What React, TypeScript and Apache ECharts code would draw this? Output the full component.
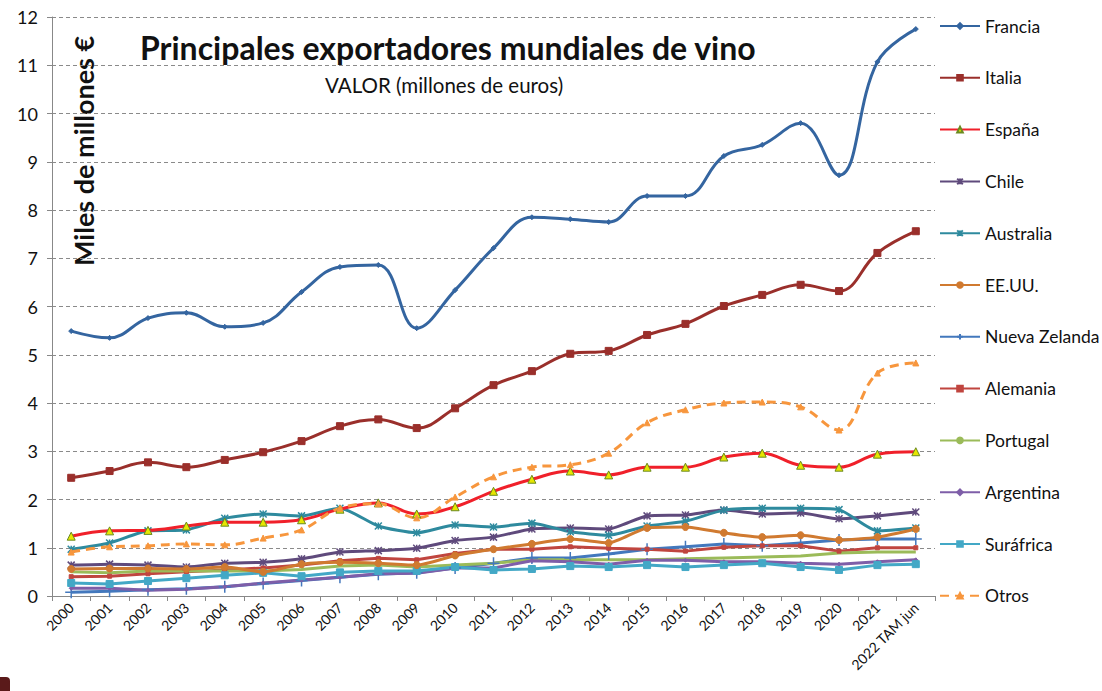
import React, { useEffect, useRef } from "react";
import * as echarts from "echarts";

const years = ["2000","2001","2002","2003","2004","2005","2006","2007","2008","2009","2010","2011","2012","2013","2014","2015","2016","2017","2018","2019","2020","2021","2022 TAM jun"];

const francia = [5.49,5.35,5.76,5.87,5.58,5.66,6.30,6.82,6.86,5.55,6.34,7.21,7.85,7.81,7.75,8.29,8.29,9.12,9.35,9.80,8.72,11.07,11.75];
const italia = [2.45,2.59,2.77,2.67,2.82,2.98,3.21,3.52,3.66,3.48,3.89,4.37,4.66,5.02,5.08,5.41,5.64,6.01,6.24,6.45,6.32,7.11,7.56];
const espana = [1.24,1.35,1.36,1.45,1.53,1.53,1.58,1.80,1.93,1.70,1.85,2.17,2.42,2.59,2.51,2.67,2.67,2.88,2.96,2.71,2.67,2.94,2.99];
const chile = [0.64,0.66,0.64,0.60,0.68,0.70,0.77,0.91,0.94,0.99,1.15,1.22,1.39,1.41,1.39,1.66,1.68,1.78,1.70,1.72,1.60,1.66,1.74];
const australia = [0.97,1.10,1.35,1.37,1.61,1.70,1.66,1.82,1.45,1.31,1.47,1.43,1.51,1.33,1.26,1.45,1.55,1.78,1.82,1.82,1.79,1.35,1.41];
const eeuu = [0.56,0.57,0.57,0.56,0.60,0.50,0.66,0.70,0.68,0.64,0.84,0.97,1.08,1.18,1.10,1.41,1.43,1.31,1.22,1.26,1.16,1.22,1.39];
const nuevaZelanda = [0.08,0.10,0.13,0.15,0.19,0.26,0.32,0.39,0.45,0.48,0.58,0.68,0.79,0.79,0.87,0.97,1.02,1.08,1.04,1.10,1.16,1.18,1.18];
const alemania = [0.40,0.41,0.46,0.50,0.54,0.58,0.64,0.73,0.78,0.75,0.88,0.97,0.97,1.02,0.99,0.97,0.93,1.01,1.04,1.04,0.93,1.00,1.00];
const portugal = [0.50,0.48,0.52,0.52,0.52,0.52,0.55,0.62,0.64,0.60,0.64,0.68,0.75,0.75,0.75,0.75,0.77,0.79,0.81,0.83,0.89,0.91,0.91];
const argentina = [0.16,0.16,0.12,0.14,0.19,0.27,0.33,0.39,0.46,0.47,0.58,0.58,0.73,0.71,0.66,0.74,0.74,0.71,0.71,0.68,0.66,0.71,0.75];
const surafrica = [0.27,0.25,0.31,0.37,0.43,0.48,0.41,0.49,0.52,0.52,0.60,0.54,0.56,0.62,0.60,0.64,0.60,0.64,0.68,0.60,0.54,0.64,0.66];
const otros = [0.91,1.02,1.04,1.08,1.06,1.20,1.37,1.82,1.91,1.62,2.05,2.47,2.67,2.72,2.96,3.59,3.86,4.00,4.02,3.92,3.44,4.62,4.83];

const FONT = "Lato, 'Open Sans', sans-serif";
const X_PATH = "path://M0,0L10,10M10,0L0,10M5,0L5,10";
const PLUS_PATH = "path://M5,0L5,10M0,5L10,5";

export default function App() {
  const ref = useRef<HTMLDivElement>(null);
  useEffect(() => {
    if (!ref.current) return;
    const chart = echarts.init(ref.current, undefined, { renderer: "svg" });
    const mk = (name: string, data: number[], color: string, opts: any = {}) => ({
      name,
      type: "line",
      data,
      smooth: opts.smooth ?? false,
      symbol: opts.symbol ?? "none",
      symbolSize: opts.symbolSize ?? 6,
      showSymbol: opts.symbol !== "none",
      lineStyle: { color, width: 3, type: opts.dash ? [9, 6] : "solid" },
      itemStyle: {
        color: opts.fill ?? color,
        borderColor: opts.border ?? color,
        borderWidth: opts.borderWidth ?? 1,
      },
      z: opts.z ?? 2,
    });
    chart.setOption({
      animation: false,
      backgroundColor: "#ffffff",
      textStyle: { fontFamily: FONT },
      grid: { left: 52, top: 17, width: 883, height: 579, containLabel: false },
      legend: {
        orient: "vertical",
        left: 939,
        top: 17,
        padding: 0,
        itemWidth: 40,
        itemHeight: 7,
        itemGap: 33.8,
        textStyle: { fontSize: 17.5, color: "#111", fontFamily: FONT, lineHeight: 18 },
      },
      xAxis: {
        type: "category",
        data: years,
        boundaryGap: true,
        axisLine: { lineStyle: { color: "#888", width: 1 } },
        axisTick: { show: true, length: 5, lineStyle: { color: "#888" } },
        axisLabel: { rotate: 45, interval: 0, fontSize: 14, color: "#111", margin: 9, hideOverlap: false, fontFamily: FONT },
      },
      yAxis: {
        type: "value",
        min: 0,
        max: 12,
        interval: 1,
        axisLine: { show: true, lineStyle: { color: "#888" } },
        axisTick: { show: true, length: 5, lineStyle: { color: "#888" } },
        axisLabel: { fontSize: 18, color: "#111", margin: 14, fontFamily: FONT },
        splitLine: { show: true, lineStyle: { color: "#8a8a8a", type: [4, 3], width: 1 } },
      },
      graphic: [
        { type: "text", left: 140, top: 31, style: { text: "Principales exportadores mundiales de vino", fontSize: 32, fontWeight: "bold", fill: "#111", fontFamily: FONT } },
        { type: "text", left: 325, top: 74, style: { text: "VALOR (millones de euros)", fontSize: 20.5, fill: "#111", fontFamily: FONT } },
        { type: "text", x: 70, y: 266, rotation: Math.PI / 2, style: { text: "Miles de millones €", fontSize: 27, fontWeight: "bold", fill: "#111", fontFamily: FONT, align: "left", verticalAlign: "top" } },
        { type: "rect", shape: { x: -4, y: 677, width: 14, height: 20, r: 4 }, style: { fill: "#5a1a1a" } },
      ],
      series: [
        mk("Francia", francia, "#3465A0", { smooth: 0.4, symbol: "diamond", symbolSize: 5, z: 5 }),
        mk("Italia", italia, "#9A2F2B", { smooth: 0.4, symbol: "rect", symbolSize: 7, z: 5 }),
        mk("España", espana, "#F0202A", { smooth: 0.4, symbol: "triangle", symbolSize: 8, fill: "#E6E600", border: "#6a8a20", z: 4 }),
        mk("Chile", chile, "#5F4A7C", { smooth: 0.2, symbol: X_PATH, symbolSize: 7, borderWidth: 1.5, z: 3 }),
        mk("Australia", australia, "#2E8A9E", { smooth: 0.2, symbol: X_PATH, symbolSize: 7, borderWidth: 1.5, z: 3 }),
        mk("EE.UU.", eeuu, "#D07A30", { smooth: 0.2, symbol: "circle", symbolSize: 7, z: 3 }),
        mk("Nueva Zelanda", nuevaZelanda, "#4378BD", { symbol: PLUS_PATH, symbolSize: 12, borderWidth: 1.5, z: 2 }),
        mk("Alemania", alemania, "#C0453F", { symbol: "rect", symbolSize: 4, z: 2 }),
        mk("Portugal", portugal, "#9BBB59", { symbol: "none", z: 2 }),
        mk("Argentina", argentina, "#7E5EA8", { symbol: "diamond", symbolSize: 4, z: 2 }),
        mk("Suráfrica", surafrica, "#43A8C6", { symbol: "rect", symbolSize: 7, z: 2 }),
        mk("Otros", otros, "#F7963D", { smooth: 0.4, dash: true, symbol: "triangle", symbolSize: 6, z: 4 }),
      ],
    });
    return () => chart.dispose();
  }, []);
  return <div ref={ref} style={{ width: 1102, height: 691, position: "absolute", left: 0, top: 0 }} />;
}
